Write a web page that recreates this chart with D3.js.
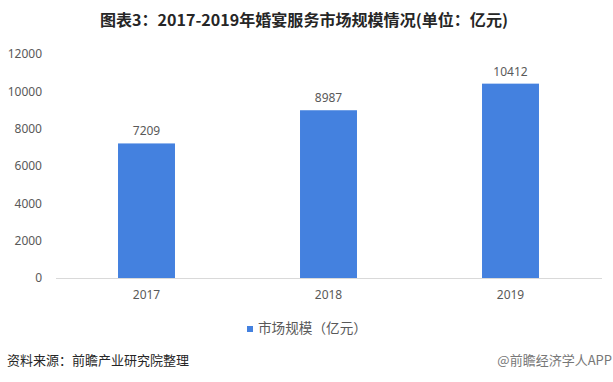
<!DOCTYPE html>
<html><head><meta charset="utf-8">
<script src="https://cdn.jsdelivr.net/npm/d3@7"></script>
<style>body{margin:0;background:#fff;font-family:"Noto Sans CJK SC","Microsoft YaHei",sans-serif;}</style>
</head><body><svg id="c" width="613" height="382"></svg>
<script>
const categories = ["2017","2018","2019"];
const values = [7209, 8987, 10412];
const yTicks = [0,2000,4000,6000,8000,10000,12000];
const title = "图表3：2017-2019年婚宴服务市场规模情况(单位：亿元)";
const seriesName = "市场规模（亿元）";
const source = "资料来源：前瞻产业研究院整理";
const mark = "@前瞻经济学人APP";

const svg = d3.select("#c");
const x = d3.scaleBand().domain(categories).range([55.5, 601.5]).paddingInner(0.687).paddingOuter(0.3435);
const y = d3.scaleLinear().domain([0, 12000]).range([278, 54]);
const blue = "#4481df";
const txt = "#595959";

svg.append("text").attr("x", 100).attr("y", 26)
  .attr("font-size", 15.5).attr("font-weight", "bold").attr("fill", "#262626")
  .attr("textLength", 408).attr("lengthAdjust", "spacingAndGlyphs").text(title);

const ya = svg.append("g").attr("transform", "translate(42,0)")
  .call(d3.axisLeft(y).tickValues(yTicks).tickFormat(d3.format("d")).tickSize(0).tickPadding(0));
ya.select(".domain").remove();
ya.selectAll("text").attr("font-size", 12).attr("fill", txt).attr("font-family", "'Noto Sans','DejaVu Sans',sans-serif");

const xa = svg.append("g").attr("transform", "translate(0,278)")
  .call(d3.axisBottom(x).tickSize(0).tickPadding(12));
xa.select(".domain").attr("stroke", "#d9d9d9");
xa.selectAll("text").attr("font-size", 12).attr("fill", txt).attr("font-family", "'Noto Sans','DejaVu Sans',sans-serif");

svg.selectAll("rect.bar").data(values).join("rect").attr("class","bar")
  .attr("x", (d,i) => x(categories[i])).attr("width", x.bandwidth())
  .attr("y", d => y(d)).attr("height", d => y(0) - y(d)).attr("fill", blue);

svg.selectAll("text.val").data(values).join("text").attr("class","val")
  .attr("x", (d,i) => x(categories[i]) + x.bandwidth()/2).attr("y", d => y(d) - 8)
  .attr("text-anchor","middle").attr("font-size", 12).attr("fill", txt)
  .attr("font-family", "'Noto Sans','DejaVu Sans',sans-serif").text(d => d);

const lg = svg.append("g").attr("transform", "translate(247,333)");
lg.append("rect").attr("x", 0).attr("y", -7).attr("width", 6).attr("height", 6).attr("fill", blue);
lg.append("text").attr("x", 11).attr("y", 0).attr("font-size", 13.5).attr("fill", txt)
  .attr("textLength", 109).attr("lengthAdjust", "spacingAndGlyphs").text(seriesName);

svg.append("text").attr("x", 7).attr("y", 365).attr("font-size", 13).attr("fill", "#262626").text(source);
svg.append("text").attr("x", 612).attr("y", 365).attr("text-anchor","end").attr("font-size", 13).attr("fill", "#777").text(mark);
</script></body></html>
